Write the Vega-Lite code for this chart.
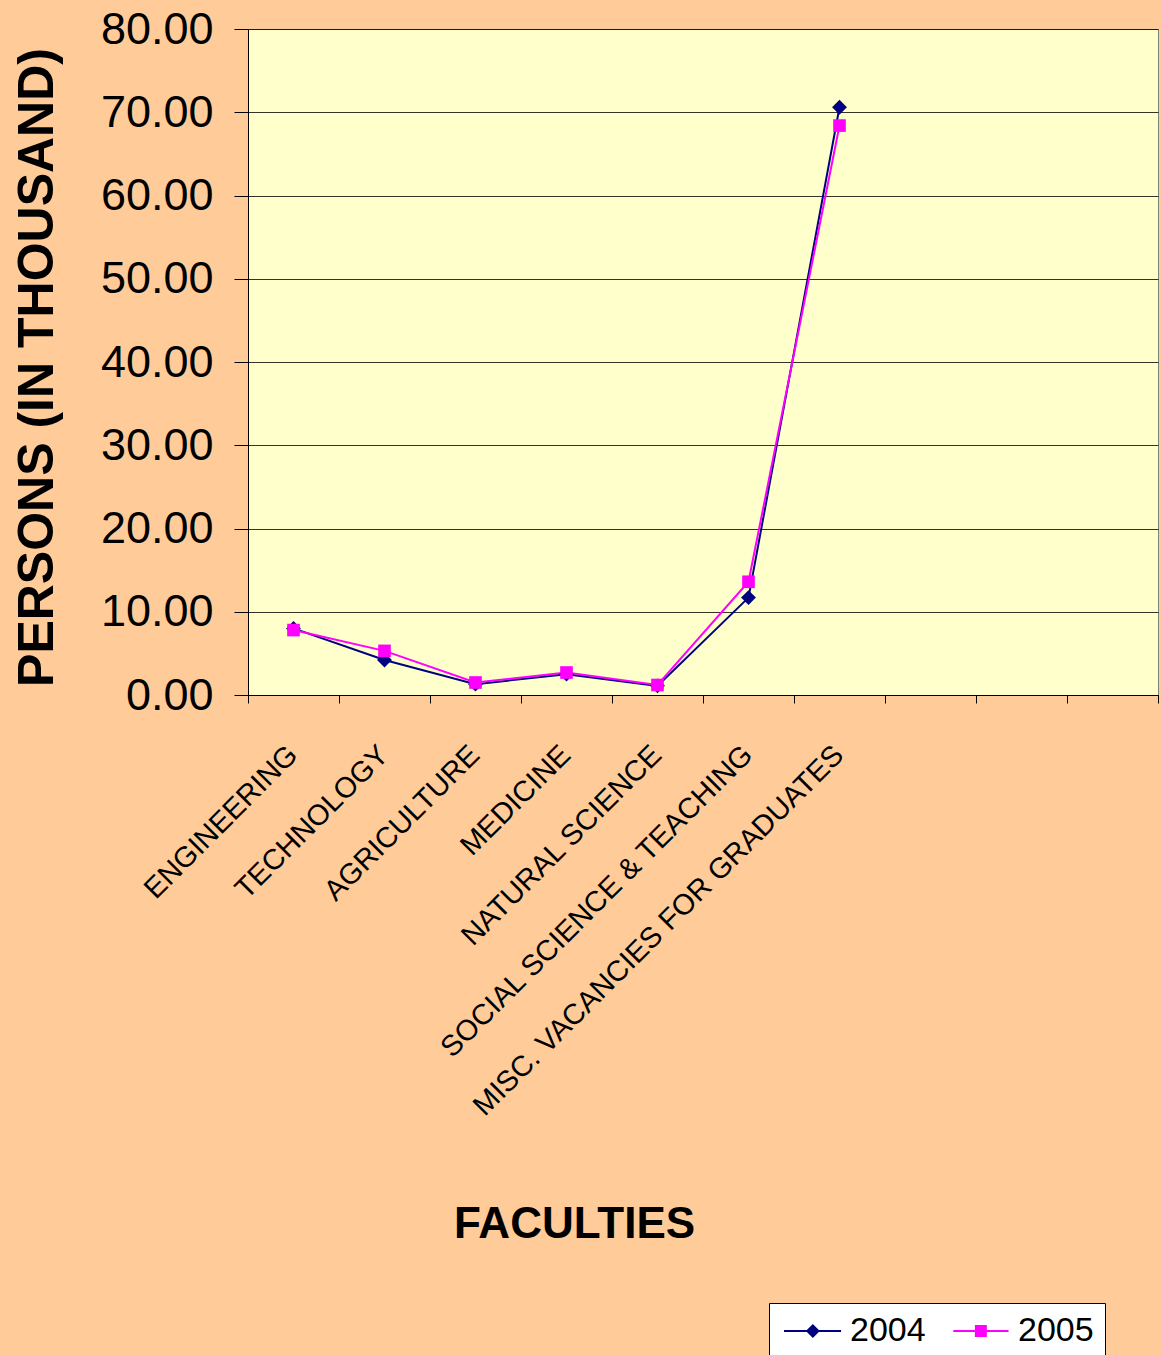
{
  "$schema": "https://vega.github.io/schema/vega-lite/v6.json",
  "width": 910,
  "height": 666,
  "autosize": {"type": "none"},
  "padding": {"left": 248, "top": 29, "right": 4, "bottom": 660},
  "background": "#FFCC99",
  "view": {"fill": "#FFFFCC", "stroke": "#808080", "strokeWidth": 1},
  "config": {"font": "Liberation Sans"},
  "data": {
    "values": [
      {"faculty": "ENGINEERING", "year": "2004", "persons": 8.0},
      {"faculty": "TECHNOLOGY", "year": "2004", "persons": 4.2},
      {"faculty": "AGRICULTURE", "year": "2004", "persons": 1.3},
      {"faculty": "MEDICINE", "year": "2004", "persons": 2.5},
      {"faculty": "NATURAL SCIENCE", "year": "2004", "persons": 1.1},
      {"faculty": "SOCIAL SCIENCE & TEACHING", "year": "2004", "persons": 11.7},
      {"faculty": "MISC. VACANCIES FOR GRADUATES", "year": "2004", "persons": 70.6},
      {"faculty": "ENGINEERING", "year": "2005", "persons": 7.8},
      {"faculty": "TECHNOLOGY", "year": "2005", "persons": 5.3},
      {"faculty": "AGRICULTURE", "year": "2005", "persons": 1.5},
      {"faculty": "MEDICINE", "year": "2005", "persons": 2.7},
      {"faculty": "NATURAL SCIENCE", "year": "2005", "persons": 1.2},
      {"faculty": "SOCIAL SCIENCE & TEACHING", "year": "2005", "persons": 13.6},
      {"faculty": "MISC. VACANCIES FOR GRADUATES", "year": "2005", "persons": 68.4}
    ]
  },
  "encoding": {
    "x": {
      "field": "faculty",
      "type": "nominal",
      "sort": null,
      "bandPosition": 0.5,
      "scale": {
        "type": "band",
        "paddingInner": 0,
        "paddingOuter": 0,
        "domain": ["ENGINEERING", "TECHNOLOGY", "AGRICULTURE", "MEDICINE", "NATURAL SCIENCE", "SOCIAL SCIENCE & TEACHING", "MISC. VACANCIES FOR GRADUATES", " ", "  ", "   "]
      },
      "axis": {
        "title": "FACULTIES",
        "titleFontSize": 44,
        "titleFontWeight": "bold",
        "titleColor": "#000000",
        "titleX": 326,
        "titleY": 542,
        "titleAlign": "center",
        "titleAnchor": null,
        "titleBaseline": "alphabetic",
        "labelAngle": -45,
        "labelAlign": "right",
        "labelBaseline": "top",
        "labelFontSize": 29,
        "labelColor": "#000000",
        "labelPadding": 37,
        "labelOffset": -11,
        "labelLimit": 0,
        "labelOverlap": false,
        "tickBand": "extent",
        "tickSize": 8,
        "tickColor": "#000000",
        "domainColor": "#000000",
        "grid": false
      }
    },
    "y": {
      "field": "persons",
      "type": "quantitative",
      "scale": {"domain": [0, 80], "nice": false},
      "axis": {
        "title": "PERSONS (IN THOUSAND)",
        "titleFontSize": 50,
        "titleFontWeight": "bold",
        "titleColor": "#000000",
        "titleAngle": -90,
        "titleX": -211,
        "titleY": 338,
        "titleAlign": "center",
        "titleBaseline": "middle",
        "values": [0, 10, 20, 30, 40, 50, 60, 70, 80],
        "format": ".2f",
        "labelFontSize": 45,
        "labelColor": "#000000",
        "labelPadding": 21,
        "tickSize": 14,
        "tickColor": "#000000",
        "domainColor": "#000000",
        "grid": true,
        "gridColor": "#000000",
        "gridOpacity": 0.8,
        "gridWidth": 1
      }
    }
  },
  "layer": [
    {
      "mark": {"type": "line", "strokeWidth": 2},
      "encoding": {
        "color": {
          "field": "year",
          "type": "nominal",
          "scale": {"domain": ["2004", "2005"], "range": ["#000080", "#FF00FF"]},
          "legend": {
            "title": null,
            "orient": "none",
            "legendX": 521,
            "legendY": 1274,
            "direction": "horizontal",
            "fillColor": "#FFFFFF",
            "strokeColor": "#000000",
            "padding": 11,
            "labelFontSize": 34,
            "labelColor": "#000000",
            "labelOffset": 36,
            "columnPadding": 22,
            "symbolSize": 676,
            "symbolStrokeWidth": 0,
            "encode": {
              "symbols": {
                "update": {
                  "shape": {"signal": "datum.value === '2004' ? 'M-1.0,-0.077L3.39,-0.077L3.39,0.077L-1.0,0.077ZM1.22,-0.54L1.76,0L1.22,0.54L0.68,0Z' : 'M-0.9,-0.077L3.35,-0.077L3.35,0.077L-0.9,0.077ZM0.76,-0.46L1.68,-0.46L1.68,0.46L0.76,0.46Z'"},
                  "fill": {"signal": "datum.value === '2004' ? '#000080' : '#FF00FF'"},
                  "fillOpacity": {"value": 1},
                  "opacity": {"value": 1},
                  "size": {"value": 676},
                  "strokeWidth": {"value": 0}
                }
              }
            }
          }
        }
      }
    },
    {
      "transform": [{"filter": "datum.year === '2004'"}],
      "mark": {"type": "point", "filled": true, "opacity": 1, "shape": "diamond", "size": 220, "color": "#000080"}
    },
    {
      "transform": [{"filter": "datum.year === '2005'"}],
      "mark": {"type": "point", "filled": true, "opacity": 1, "shape": "square", "size": 160, "color": "#FF00FF"}
    }
  ]
}
